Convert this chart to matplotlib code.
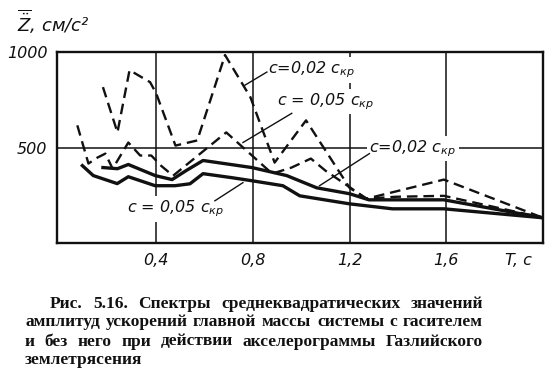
import matplotlib
matplotlib.use('Agg')
import matplotlib.pyplot as plt

# Spectra of RMS acceleration amplitudes.
# T in seconds, Z in cm/s^2
T_dash02 = [0.18, 0.24, 0.29, 0.375, 0.40, 0.48, 0.57, 0.685, 0.79, 0.89, 1.02, 1.20, 1.27, 1.59, 2.0]
Z_dash02 = [816, 579, 905, 842, 784, 510, 537, 984, 763, 421, 642, 289, 232, 332, 132]

T_dash05 = [0.074, 0.12, 0.157, 0.19, 0.22, 0.285, 0.334, 0.38, 0.42, 0.47, 0.69, 0.88, 0.96, 1.04, 1.10, 1.27, 1.39, 1.59, 2.0]
Z_dash05 = [616, 416, 447, 468, 389, 526, 458, 458, 405, 352, 579, 363, 395, 442, 379, 232, 242, 247, 132]

T_solid02 = [0.18, 0.24, 0.285, 0.396, 0.466, 0.524, 0.594, 0.796, 0.94, 1.064, 1.20, 1.28, 1.59, 2.0]
Z_solid02 = [395, 389, 411, 353, 332, 379, 432, 395, 353, 289, 258, 226, 226, 132]

T_solid05 = [0.095, 0.14, 0.239, 0.285, 0.396, 0.478, 0.54, 0.594, 0.713, 0.796, 0.924, 0.994, 1.20, 1.377, 1.59, 2.0]
Z_solid05 = [405, 353, 311, 347, 300, 300, 310, 363, 342, 326, 300, 247, 205, 179, 179, 132]

grid_T = [0.4, 0.8, 1.2, 1.6]
xtick_pos = [0.4, 0.8, 1.2, 1.6, 1.9]
xtick_lab = ['0,4', '0,8', '1,2', '1,6', 'T, c']
ytick_pos = [500, 1000]
ytick_lab = ['500', '1000']

caption = ['Рис. 5.16. Спектры среднеквадратических значений',
           'амплитуд ускорений главной массы системы с гасителем',
           'и без него при действии акселерограммы Газлийского',
           'землетрясения']

W, H = 557, 379
ink = '#111111'

fig = plt.figure(figsize=(W/100., H/100.), dpi=100)
ax = fig.add_axes([57./W, 1-243./H, (543.-57)/W, (243.-52)/H])
ax.set_xlim(-0.01, 2.0)
ax.set_ylim(0, 1000)

for t in grid_T:
    ax.axvline(t, color=ink, lw=1.1, zorder=1)
ax.axhline(500, color=ink, lw=1.1, zorder=1)

ax.plot(T_dash02, Z_dash02, color=ink, lw=1.7, dashes=(4.5, 2.5), zorder=3)
ax.plot(T_dash05, Z_dash05, color=ink, lw=1.7, dashes=(4.5, 2.5), zorder=3)
ax.plot(T_solid02, Z_solid02, color=ink, lw=2.4, zorder=3)
ax.plot(T_solid05, Z_solid05, color=ink, lw=2.4, zorder=3)

for s in ax.spines.values():
    s.set_linewidth(1.7)
    s.set_color(ink)

ax.set_xticks(xtick_pos)
ax.set_xticklabels(xtick_lab, fontstyle='italic', fontsize=11.5)
ax.set_yticks(ytick_pos)
ax.set_yticklabels(ytick_lab, fontstyle='italic', fontsize=11.5)
ax.tick_params(length=0, pad=7, colors=ink)

# curve labels with leader lines
def label(txt, xy, xytext, lead_from):
    ax.text(xytext[0], xytext[1], txt, fontstyle='italic', fontsize=11.5, color=ink,
            va='center', ha='left', zorder=4,
            bbox=dict(boxstyle='square,pad=0.15', fc='white', ec='none'))
    ax.plot([lead_from[0], xy[0]], [lead_from[1], xy[1]], color=ink, lw=1.0, zorder=4)

label(r'$c$=0,02 $c_{кр}$', (0.767, 826), (0.862, 905), (0.858, 895))
label(r'$c$ = 0,05 $c_{кр}$', (0.759, 526), (0.899, 742), (0.961, 679))
label(r'$c$=0,02 $c_{кр}$', (1.076, 300), (1.282, 495), (1.282, 468))
label(r'$c$ = 0,05 $c_{кр}$', (0.759, 316), (0.28, 179), (0.643, 221))

# y axis title
fig.text(17./W, 1-32./H, r'$\overline{\ddot{Z}}$, см/с²', fontstyle='italic',
         fontsize=13, color=ink, ha='left', va='baseline')

# caption, justified line by line like in the book
def justify(line, x0, x1, ybase):
    words = line.split()
    r = fig.canvas.get_renderer()
    ts = [fig.text(0, 1-ybase/H, w, family='Liberation Serif', weight='bold',
                   fontsize=12.5, color=ink, va='baseline') for w in words]
    ws = [t.get_window_extent(r).width for t in ts]
    if x1 is None or len(words) == 1:
        gap = 4.
    else:
        gap = max(2., (x1 - x0 - sum(ws)) / (len(words)-1))
    x = x0
    for t, w in zip(ts, ws):
        t.set_x(x/W)
        x += w + gap

justify(caption[0], 50, 483, 307.5)
justify(caption[1], 25, 483, 326.5)
justify(caption[2], 25, 483, 345.5)
justify(caption[3], 25, None, 364.5)

fig.savefig('out.png', dpi=100)
